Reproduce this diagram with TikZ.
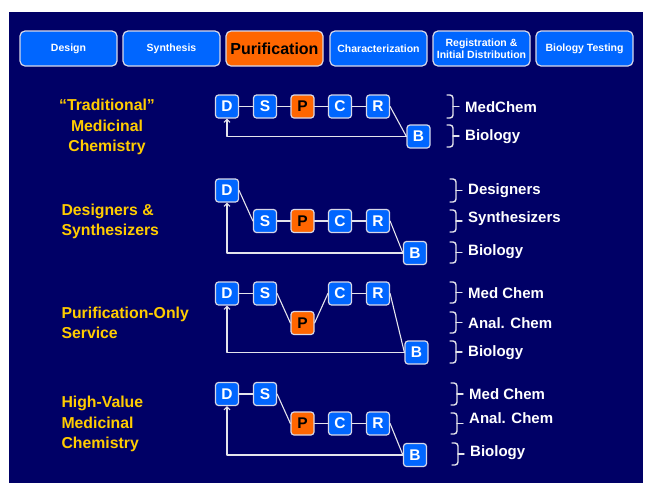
\documentclass[tikz,border=0pt]{standalone}
\usepackage{fontspec}
\setmainfont{Liberation Sans}
\usetikzlibrary{arrows.meta}

\definecolor{navy}{HTML}{000066}
\definecolor{stageblue}{HTML}{0066FF}
\definecolor{hotorange}{HTML}{FF6600}
\definecolor{gold}{HTML}{FFCC00}
\definecolor{boxedge}{HTML}{D8D8E8}
\definecolor{linegray}{HTML}{E4E4EC}

\tikzset{
  stage/.style={draw=boxedge,line width=1.2pt,fill=stageblue,rounded corners=5pt,
    minimum width=97pt,minimum height=35pt,inner sep=1pt,align=center,text=white,
    font=\bfseries\fontsize{10.5}{11.5}\selectfont},
  letter/.style={draw=boxedge,line width=1.2pt,fill=stageblue,rounded corners=3pt,
    minimum size=23pt,inner sep=0pt,text=white,font=\bfseries\fontsize{15.5}{15.5}\selectfont},
  hot/.style={fill=hotorange,text=black},
  group/.style={text=gold,font=\bfseries\fontsize{15.8}{20.5}\selectfont},
  role/.style={text=white,anchor=west,inner sep=0pt,font=\bfseries\fontsize{15}{15}\selectfont},
  link/.style={draw=linegray,line width=1.1pt},
  bracket/.style={draw=linegray,line width=1.4pt,rounded corners=3pt}
}

\begin{document}
\begin{tikzpicture}[x=1pt,y=-1pt,line cap=round,line join=round,>={Straight Barb[length=3pt,width=6pt]}]
\useasboundingbox (0,0) rectangle (646,483);
\fill[white] (0,0) rectangle (646,483);
\fill[navy] (9,12) rectangle (643,483);

% stages along the top
\node[stage] (design) at (68.5,48.5) {Design};
\node[stage] (synth) at (171.5,48.5) {Synthesis};
\node[stage,fill=hotorange,text=black,font=\bfseries\fontsize{16}{16}\selectfont] (purif) at (274.5,48.5) {Purification};
\node[stage] (charac) at (378.5,48.5) {Characterization};
\node[stage] (regis) at (481.5,48.5) {Registration \&\\Initial Distribution};
\node[stage] (biotest) at (584.5,48.5) {Biology Testing};

% "Traditional" medicinal chemistry
\node[group,align=center] (trad) at (107,127) {“Traditional”\\Medicinal\\Chemistry};
\node[letter] (d1) at (227,106.5) {D};
\node[letter] (s1) at (265,106.5) {S};
\node[letter,hot] (p1) at (302.5,106.5) {P};
\node[letter] (c1) at (340,106.5) {C};
\node[letter] (r1) at (378,106.5) {R};
\node[letter] (b1) at (418.5,136.5) {B};
\draw[link] (d1)--(s1)--(p1)--(c1)--(r1);
\draw[link] (r1.east)--(b1.west);
\draw[link,->] (b1.west) -| (d1.south);

% designers & synthesizers
\node[group,align=left,anchor=west] (desyn) at (58,221.5) {Designers \&\\Synthesizers};
\node[letter] (d2) at (227,190.5) {D};
\node[letter] (s2) at (265,221) {S};
\node[letter,hot] (p2) at (302.5,221) {P};
\node[letter] (c2) at (340,221) {C};
\node[letter] (r2) at (378,221) {R};
\node[letter] (b2) at (415,253) {B};
\draw[link] (d2.east)--(s2.west);
\draw[link] (s2)--(p2)--(c2)--(r2);
\draw[link] (r2.east)--(b2.west);
\draw[link,->] (b2.west) -| (d2.south);

% purification-only service
\node[group,align=left,anchor=west] (ponly) at (58,323) {Purification-Only\\Service};
\node[letter] (d3) at (227,293.5) {D};
\node[letter] (s3) at (265,293.5) {S};
\node[letter,hot] (p3) at (302.5,323) {P};
\node[letter] (c3) at (340,293.5) {C};
\node[letter] (r3) at (378,293.5) {R};
\node[letter] (b3) at (416.5,352.5) {B};
\draw[link] (d3)--(s3);
\draw[link] (s3.east)--(p3.west);
\draw[link] (p3.east)--(c3.west);
\draw[link] (c3)--(r3);
\draw[link] (r3.east)--(b3.west);
\draw[link,->] (b3.west) -| (d3.south);

% high-value medicinal chemistry
\node[group,align=left,anchor=west] (hival) at (58,424) {High-Value\\Medicinal\\Chemistry};
\node[letter] (d4) at (227,394) {D};
\node[letter] (s4) at (265,394) {S};
\node[letter,hot] (p4) at (302.5,423.5) {P};
\node[letter] (c4) at (340,423.5) {C};
\node[letter] (r4) at (378,423.5) {R};
\node[letter] (b4) at (415,455) {B};
\draw[link] (d4)--(s4);
\draw[link] (s4.east)--(p4.west);
\draw[link] (p4)--(c4)--(r4);
\draw[link] (r4.east)--(b4.west);
\draw[link,->] (b4.west) -| (d4.south);

% who does what
\foreach \bx/\ta/\tb/\ly/\who in {
  447/95/118/107/MedChem, 447/125/147/137/Biology,
  450/179/202/191/Designers, 450/210/232/219/Synthesizers, 450/242/263/252/Biology,
  450/282/303/293/Med Chem, 450/312/333/323/Anal. Chem, 450/341/363/353/Biology,
  451/383/405/394/Med Chem, 451/413/434/418/Anal. Chem, 452/443/465/453/Biology}{
  \draw[bracket] (\bx,\ta) -- (\bx+6,\ta) -- (\bx+6,\tb) -- (\bx,\tb);
  \draw[bracket] (\bx+6,{(\ta+\tb)/2}) -- (\bx+12,{(\ta+\tb)/2});
  \node[role] (who-\ta) at (\bx+18,\ly) {\who};
}
\end{tikzpicture}
\end{document}
